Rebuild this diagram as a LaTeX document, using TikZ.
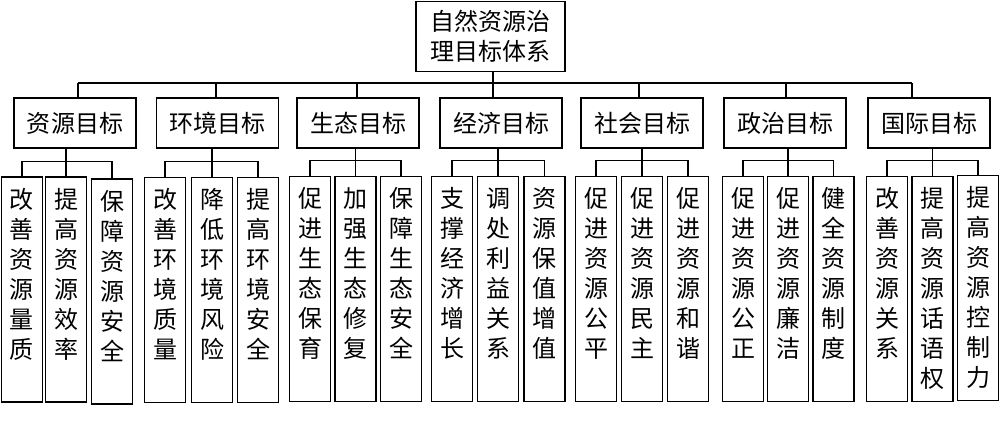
\documentclass[tikz,border=0pt]{standalone}
\usepackage{fontspec}
\setmainfont{Noto Sans CJK SC}
\usetikzlibrary{calc}
\tikzset{
  box/.style={draw, line width=1.4pt, inner sep=0pt, font=\fontsize{24}{30}\selectfont},
  topbox/.style={box, minimum width=149pt, minimum height=70pt, align=center},
  midbox/.style={box, minimum width=122pt, minimum height=50pt},
  leafbox/.style={box, minimum width=41pt, minimum height=225pt},
  conn/.style={line width=1.4pt}
}
\newcommand{\leaftext}[1]{\parbox[c][213pt][t]{26pt}{\vspace*{5pt}\centering #1}}
\begin{document}
\begin{tikzpicture}[x=1pt,y=-1pt]
\useasboundingbox (0,0) rectangle (1000,430);
% root
\node[topbox] (root) at (490.5,36.5) {自然资源治\\理目标体系};
% level 2
\node[midbox] (l2a) at (75,123)    {资源目标};
\node[midbox] (l2b) at (217.5,123) {环境目标};
\node[midbox] (l2c) at (358,123)   {生态目标};
\node[midbox] (l2d) at (501,123)   {经济目标};
\node[midbox] (l2e) at (642,123)   {社会目标};
\node[midbox] (l2f) at (785,123)   {政治目标};
\node[midbox] (l2g) at (929,123)   {国际目标};
% leaves
\node[leafbox] (a1) at (22,289.5)  {\leaftext{改\\善\\资\\源\\量\\质}};
\node[leafbox] (a2) at (66,289.5)  {\leaftext{提\\高\\资\\源\\效\\率}};
\node[leafbox] (a3) at (112,291.5) {\leaftext{保\\障\\资\\源\\安\\全}};
\node[leafbox] (b1) at (165,290)   {\leaftext{改\\善\\环\\境\\质\\量}};
\node[leafbox] (b2) at (212,290)   {\leaftext{降\\低\\环\\境\\风\\险}};
\node[leafbox] (b3) at (258,290)   {\leaftext{提\\高\\环\\境\\安\\全}};
\node[leafbox] (c1) at (310,289)   {\leaftext{促\\进\\生\\态\\保\\育}};
\node[leafbox] (c2) at (355.5,289) {\leaftext{加\\强\\生\\态\\修\\复}};
\node[leafbox] (c3) at (401,289)   {\leaftext{保\\障\\生\\态\\安\\全}};
\node[leafbox] (d1) at (452,289)   {\leaftext{支\\撑\\经\\济\\增\\长}};
\node[leafbox] (d2) at (498,289)   {\leaftext{调\\处\\利\\益\\关\\系}};
\node[leafbox] (d3) at (544.5,289) {\leaftext{资\\源\\保\\值\\增\\值}};
\node[leafbox] (e1) at (596,289)   {\leaftext{促\\进\\资\\源\\公\\平}};
\node[leafbox] (e2) at (642,289)   {\leaftext{促\\进\\资\\源\\民\\主}};
\node[leafbox] (e3) at (688,289)   {\leaftext{促\\进\\资\\源\\和\\谐}};
\node[leafbox] (f1) at (743,289)   {\leaftext{促\\进\\资\\源\\公\\正}};
\node[leafbox] (f2) at (788,289)   {\leaftext{促\\进\\资\\源\\廉\\洁}};
\node[leafbox] (f3) at (833.5,289) {\leaftext{健\\全\\资\\源\\制\\度}};
\node[leafbox] (g1) at (887,289)   {\leaftext{改\\善\\资\\源\\关\\系}};
\node[leafbox] (g2) at (932.5,289) {\leaftext{提\\高\\资\\源\\话\\语\\权}};
\node[leafbox] (g3) at (978,288)   {\leaftext{提\\高\\资\\源\\控\\制\\力}};
% main bus
\coordinate (bus) at (0,83);
\coordinate (ra) at ($(l2a.north)+(3,0)$);
\coordinate (rb) at ($(l2b.north)+(-1.5,0)$);
\coordinate (rc) at ($(l2c.north)+(-1,0)$);
\coordinate (rd) at ($(l2d.north)+(-8,0)$);
\coordinate (re) at ($(l2e.north)+(-3,0)$);
\coordinate (rf) at ($(l2f.north)+(1,0)$);
\coordinate (rg) at ($(l2g.north)+(-17,0)$);
\draw[conn] (root.south -| rd) -- (rd |- bus);
\draw[conn] (ra |- bus) -- (rg |- bus);
\foreach \r in {ra,rb,rc,rd,re,rf,rg}{
  \draw[conn] (\r |- bus) -- (\r);
}
% sub buses
\foreach \p/\x in {l2a/a,l2b/b,l2c/c,l2d/d,l2e/e,l2f/f,l2g/g}{
  \draw[conn] (\x2.north |- \p.south) -- (\x2.north);
  \draw[conn] (\x1.north) -- ++(0,-15) -| (\x3.north);
}
\end{tikzpicture}
\end{document}
